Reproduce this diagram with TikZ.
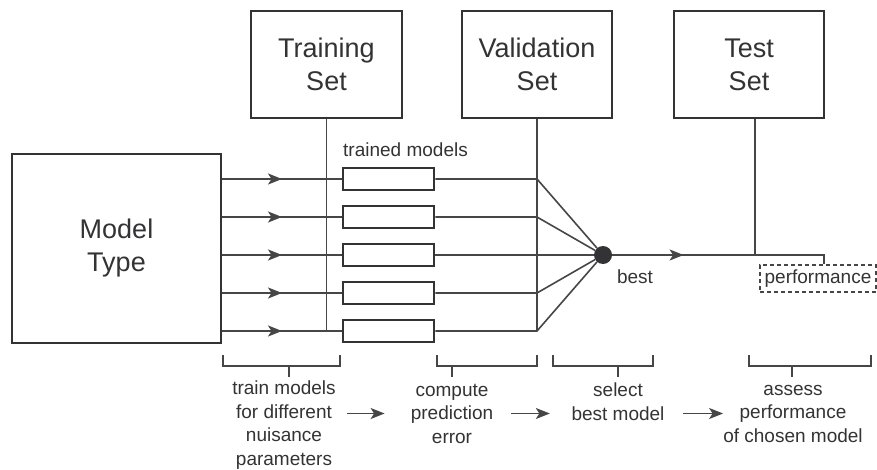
\documentclass[tikz,border=0pt]{standalone}
\usepackage{fontspec}
\setmainfont{Liberation Sans}
\usetikzlibrary{arrows.meta,decorations.markings}
\definecolor{ink}{HTML}{333335}
\definecolor{wirecol}{HTML}{464648}
\begin{document}
\begin{tikzpicture}[x=1pt,y=-1pt,
  bigbox/.style={draw=ink,line width=2.8pt,fill=white,inner sep=0pt,align=center,
    font=\fontsize{27}{33}\selectfont,text=ink},
  modelbox/.style={draw=ink,line width=2.8pt,fill=white,minimum width=91pt,minimum height=22pt,inner sep=0pt},
  wire/.style={draw=wirecol,line width=1.6pt},
  tip/.style={-{Stealth[length=14pt,width=11pt,inset=3.5pt]}},
  midarrow/.style={postaction=decorate,decoration={markings,
    mark=at position 0.5 with {\arrow[wirecol]{Stealth[length=14pt,width=11pt,inset=3.5pt]}}}},
  caption/.style={font=\fontsize{19}{23.5}\selectfont,text=ink,align=center,inner sep=0pt},
  bracket/.style={draw=wirecol,line width=1.6pt}
]
\useasboundingbox (0,0) rectangle (877,470);

% data sets and model family
\node[bigbox,minimum width=209pt,minimum height=189pt] (mt) at (116.5,248.5) {Model\\Type};
\node[bigbox,minimum width=151pt,minimum height=107pt] (train) at (326.5,64.5) {Training\\Set};
\node[bigbox,minimum width=150pt,minimum height=107pt] (val) at (537,64.5) {Validation\\Set};
\node[bigbox,minimum width=150pt,minimum height=107pt] (test) at (749,64.5) {Test\\Set};

% trained models, one per nuisance setting
\foreach \i/\y in {1/179,2/217,3/255,4/293,5/331}
  \node[modelbox] (tm\i) at (388.5,\y) {};
\node[caption,anchor=west] (tmlbl) at (343,150) {trained models};

% selected model and its assessment
\node[circle,fill=ink,minimum size=18pt,inner sep=0pt] (best) at (603,255) {};
\node[caption] (bestlbl) at (635,277) {best};
\node[caption,draw=wirecol,line width=1.3pt,dash pattern=on 4pt off 3pt,
      minimum width=116pt,minimum height=27pt] (perf) at (818,278.5) {performance};
\coordinate (testdrop) at (755,255);
\coordinate (perfjoin) at (824,255);

% data set feeds
\draw[wire] (train.south) -- (train.south |- tm5);
\draw[wire] (val.south) -- (val.south |- tm5);
\draw[wire] (test.south -| testdrop) -- (testdrop);

% model rows
\foreach \i in {1,...,5}{
  \draw[wire,midarrow] (mt.east |- tm\i) -- (tm\i.west);
  \draw[wire] (tm\i.east) -- (val.south |- tm\i) -- (best);
}
\draw[wire,midarrow] (best) -- (testdrop);
\draw[wire] (testdrop) -- (perfjoin) -- (perf.north -| perfjoin);

% stage brackets
\foreach \xl/\xr/\xt in {223/340/289, 437/537/452, 553/653/618, 749/871/792}{
  \draw[bracket] (\xl,355) -- (\xl,366) -- (\xr,366) -- (\xr,355);
  \draw[bracket] (\xt,366) -- (\xt,377);
}

% stage captions
\node[caption] (s1) at (284,425) {train models\\for different\\nuisance\\parameters};
\node[caption] (s2) at (452,413.5) {compute\\prediction\\error};
\node[caption] (s3) at (618,401.5) {select\\best model};
\node[caption] (s4) at (793,413.5) {assess\\performance\\of chosen model};

\draw[wire,tip] ([xshift=11pt]s1.east |- s2.center) -- ([xshift=-26pt]s2.west |- s2.center);
\draw[wire,tip] ([xshift=18pt]s2.east |- s2.center) -- ([xshift=-21.5pt]s3.west |- s2.center);
\draw[wire,tip] ([xshift=18.5pt]s3.east |- s2.center) -- (s4.west |- s2.center);
\end{tikzpicture}
\end{document}
